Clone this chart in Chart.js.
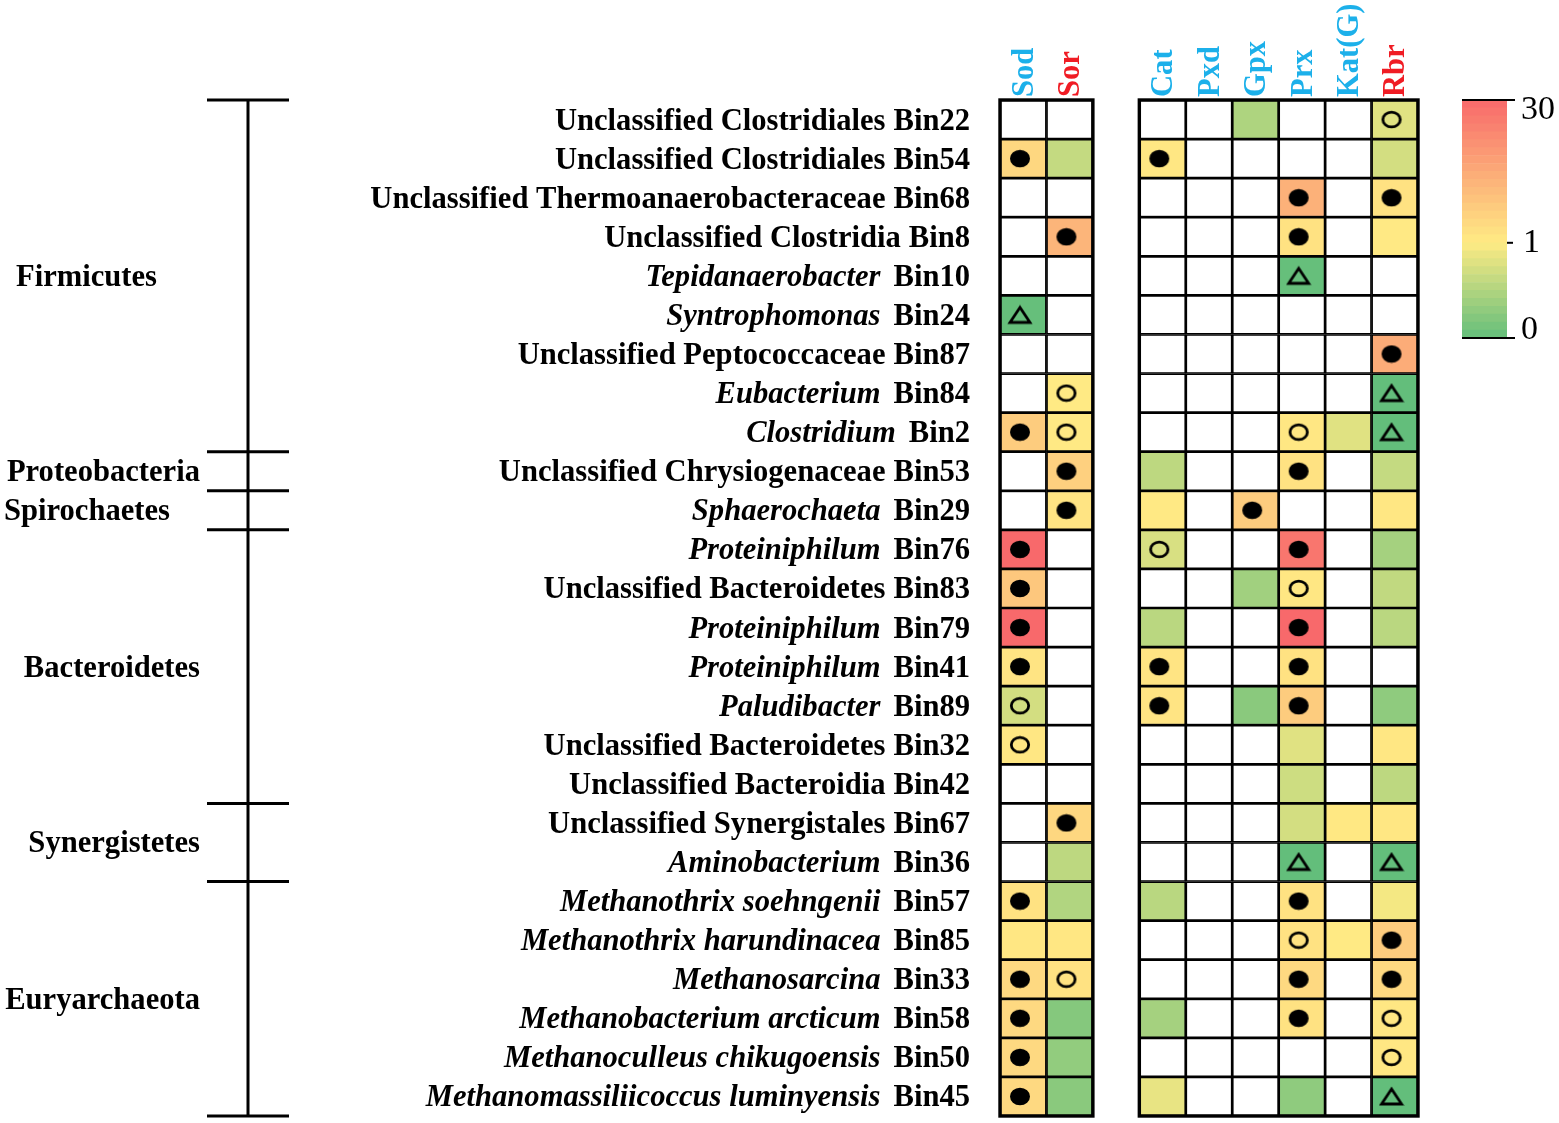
<!DOCTYPE html>
<html>
<head>
<meta charset="utf-8">
<title>Oxidative stress genes in MAGs</title>
<script src="https://cdn.jsdelivr.net/npm/chart.js@4/dist/chart.umd.min.js"></script>
<style>
  html, body { margin: 0; padding: 0; background: #fff; overflow: hidden; }
  canvas { position: absolute; display: block; }
</style>
</head>
<body>
<canvas id="heat" width="1559" height="1127" style="left:0;top:0"></canvas>
<canvas id="scale" width="119" height="280" style="left:1440px;top:80px"></canvas>
<script>
// row labels, top to bottom
const taxa = ['Unclassified Clostridiales', 'Unclassified Clostridiales', 'Unclassified Thermoanaerobacteraceae',
  'Unclassified Clostridia', 'Tepidanaerobacter', 'Syntrophomonas', 'Unclassified Peptococcaceae', 'Eubacterium',
  'Clostridium', 'Unclassified Chrysiogenaceae', 'Sphaerochaeta', 'Proteiniphilum', 'Unclassified Bacteroidetes',
  'Proteiniphilum', 'Proteiniphilum', 'Paludibacter', 'Unclassified Bacteroidetes', 'Unclassified Bacteroidia',
  'Unclassified Synergistales', 'Aminobacterium', 'Methanothrix soehngenii', 'Methanothrix harundinacea',
  'Methanosarcina', 'Methanobacterium arcticum', 'Methanoculleus chikugoensis', 'Methanomassiliicoccus luminyensis'];
const bins = ['Bin22', 'Bin54', 'Bin68', 'Bin8', 'Bin10', 'Bin24', 'Bin87', 'Bin84', 'Bin2', 'Bin53', 'Bin29', 'Bin76',
  'Bin83', 'Bin79', 'Bin41', 'Bin89', 'Bin32', 'Bin42', 'Bin67', 'Bin36', 'Bin57', 'Bin85', 'Bin33', 'Bin58', 'Bin50', 'Bin45'];

// phylum groups, number of rows in each
const phyla = ['Firmicutes', 'Proteobacteria', 'Spirochaetes', 'Bacteroidetes', 'Synergistetes', 'Euryarchaeota'];
const phylumRows = [9, 1, 1, 7, 2, 6];

// gene columns, x start of each (2 stays empty as the gap)
const genes = ['Sod', 'Sor', 'Cat', 'Pxd', 'Gpx', 'Prx', 'Kat(G)', 'Rbr'];
const geneSlots = [0, 1, 3, 4, 5, 6, 7, 8];

// values per gene, null = gene not found
const _ = null;
const sod = [_, 5.5, _, _, _, 0.02, _, _, 8, _, _, 30, 9, 30, 2.5, 0.72, 1.8, _, _, _, 3, 1.8, 5, 5, 5, 5];
const sor = [_, 0.62, _, 13, _, _, _, 1.3, 1.5, 7, 2.5, _, _, _, _, _, _, _, 5.5, 0.58, 0.5, 1.8, 3, 0.22, 0.3, 0.25];
const cat = [_, 2, _, _, _, _, _, _, _, 0.58, 1.5, 0.75, _, 0.56, 2.5, 2.5, _, _, _, _, 0.55, _, _, 0.42, _, 0.85];
const pxd = [_, _, _, _, _, _, _, _, _, _, _, _, _, _, _, _, _, _, _, _, _, _, _, _, _, _];
const gpx = [0.48, _, _, _, _, _, _, _, _, _, 8, _, 0.4, _, _, 0.25, _, _, _, _, _, _, _, _, _, _];
const prx = [_, _, 14, 3, 0.02, _, _, _, 2, 3, _, 27, 2, 30, 3, 8, 0.8, 0.68, 0.72, 0, 3, 3, 5, 3, _, 0.28];
const katG = [_, _, _, _, _, _, _, _, 0.8, _, _, _, _, _, _, _, _, _, 1.6, _, _, 1.2, _, _, _, _];
const rbr = [0.8, 0.72, 3, 1.5, _, _, 15, 0, 0, 0.62, 2, 0.42, 0.6, 0.56, _, 0.28, 2, 0.58, 1.8, 0, 0.93, 8, 5, 2, 2, 0];
const geneValues = [sod, sor, cat, pxd, gpx, prx, katG, rbr];

// markers as [row, gene]
const filledMarks = [[1, 0], [1, 2], [2, 5], [2, 7], [3, 1], [3, 5], [6, 7], [8, 0], [9, 1], [9, 5], [10, 1], [10, 4],
  [11, 0], [11, 5], [12, 0], [13, 0], [13, 5], [14, 0], [14, 2], [14, 5], [15, 2], [15, 5], [18, 1], [20, 0], [20, 5],
  [21, 7], [22, 0], [22, 5], [22, 7], [23, 0], [23, 5], [24, 0], [25, 0]];
const openMarks = [[0, 7], [7, 1], [8, 1], [8, 5], [11, 2], [12, 5], [15, 0], [16, 0], [21, 5], [22, 1], [23, 7], [24, 7]];
const triangleMarks = [[4, 5], [5, 0], [7, 7], [8, 7], [19, 5], [19, 7], [25, 7]];

// colour scale legend
const scaleLabels = ['0', '1', '30'];
const scaleStops = [0, 0.4, 1];
const scaleLabelShift = [-8, 0, 10];

const GREEN = [99, 190, 123], YELLOW = [255, 235, 132], RED = [248, 105, 107];
const SERIF = '"Liberation Serif", "Times New Roman", serif';
const LABEL_FONT = 30.6;

function mix(a, b, f) {
  return 'rgb(' + a.map((c, i) => Math.round(c + (b[i] - c) * f)).join(',') + ')';
}
function cellColor(v) {
  if (v === null) return '#ffffff';
  return v <= 1 ? mix(GREEN, YELLOW, v) : mix(YELLOW, RED, (v - 1) / 29);
}

// marker sprites, slightly wider than tall like the figure
function sprite(w, h, paint) {
  const c = document.createElement('canvas');
  c.width = w; c.height = h;
  const g = c.getContext('2d');
  g.strokeStyle = '#000'; g.fillStyle = '#000'; g.lineWidth = 2.8;
  paint(g);
  return c;
}
const dotImg = sprite(22, 19, g => { g.beginPath(); g.ellipse(11, 9.5, 10, 8.8, 0, 0, Math.PI * 2); g.fill(); });
const ringImg = sprite(22, 19, g => { g.beginPath(); g.ellipse(11, 9.5, 8.7, 7.4, 0, 0, Math.PI * 2); g.stroke(); });
const triImg = sprite(26, 21, g => {
  g.beginPath(); g.moveTo(13, 3); g.lineTo(23, 18); g.lineTo(3, 18); g.closePath();
  g.lineJoin = 'miter'; g.stroke();
});

const rowKeys = bins; // every bin is unique

const cellSets = geneValues.map((vals, i) => ({
  type: 'bar',
  order: 2,
  label: genes[i],
  data: rowKeys.map(() => [geneSlots[i], geneSlots[i] + 1]),
  backgroundColor: vals.map(cellColor),
  borderColor: '#000',
  borderWidth: 1.7,
  borderSkipped: false,
  barPercentage: 1,
  categoryPercentage: 1,
  grouped: false
}));

function markSet(marks, img) {
  return {
    type: 'scatter',
    order: 1,
    data: marks.map(m => ({ x: geneSlots[m[1]] + 0.43, y: rowKeys[m[0]] })),
    pointStyle: img,
    pointRadius: 10,
    pointHoverRadius: 10
  };
}

// row labels and the phylum bracket on the left, frames round the two blocks
const sidePlugin = {
  id: 'side',
  afterDatasetsDraw(chart) {
    const { ctx } = chart;
    const xs = chart.scales.x, ys = chart.scales.y;
    const step = ys.getPixelForValue(1) - ys.getPixelForValue(0);
    const top = ys.getPixelForValue(0) - step / 2;
    ctx.save();
    ctx.fillStyle = '#000';
    ctx.textBaseline = 'alphabetic';
    ctx.textAlign = 'left';

    taxa.forEach((name, i) => {
      const y = ys.getPixelForValue(i) + 10;
      const italic = !name.startsWith('Unclassified');
      const plain = 'bold ' + LABEL_FONT + 'px ' + SERIF;
      ctx.font = plain;
      const binW = ctx.measureText(bins[i]).width;
      const gap = italic ? 13 : 8;
      ctx.fillText(bins[i], 970 - binW, y);
      ctx.font = (italic ? 'italic ' : '') + plain;
      const nameW = ctx.measureText(name).width;
      ctx.fillText(name, 970 - binW - gap - nameW, y);
    });

    // bracket
    ctx.strokeStyle = '#000';
    ctx.lineWidth = 3;
    const bottom = top + step * taxa.length;
    ctx.beginPath(); ctx.moveTo(248, top); ctx.lineTo(248, bottom); ctx.stroke();
    const phylumRight = [157, 200, 170, 200, 200, 200];
    let row = 0;
    const tick = y => { ctx.beginPath(); ctx.moveTo(207, y); ctx.lineTo(289, y); ctx.stroke(); };
    tick(top);
    ctx.font = 'bold ' + LABEL_FONT + 'px ' + SERIF;
    ctx.textAlign = 'right';
    phyla.forEach((name, i) => {
      const y0 = top + step * row;
      row += phylumRows[i];
      const y1 = top + step * row;
      tick(y1);
      ctx.fillText(name, phylumRight[i], (y0 + y1) / 2 + 10);
    });

    // outer frames
    ctx.lineWidth = 3.4;
    [[0, 2], [3, 9]].forEach(b => {
      const l = xs.getPixelForValue(b[0]), r = xs.getPixelForValue(b[1]);
      ctx.strokeRect(l, top, r - l, bottom - top);
    });
    ctx.restore();
  }
};

new Chart(document.getElementById('heat'), {
  data: {
    labels: rowKeys,
    datasets: [...cellSets, markSet(filledMarks, dotImg), markSet(openMarks, ringImg), markSet(triangleMarks, triImg)]
  },
  options: {
    indexAxis: 'y',
    responsive: false,
    animation: false,
    events: [],
    layout: { padding: { right: 141, bottom: 7 } },
    plugins: { legend: { display: false }, tooltip: { enabled: false } },
    scales: {
      x: {
        type: 'linear',
        position: 'top',
        min: 0,
        max: 9,
        grid: { display: false },
        border: { display: false },
        afterFit(scale) {
          scale.height = 100;
          scale.paddingLeft = scale.paddingRight = scale.paddingTop = scale.paddingBottom = 0;
        },
        afterBuildTicks(scale) { scale.ticks = geneSlots.map(s => ({ value: s + 0.5 })); },
        ticks: {
          autoSkip: false,
          minRotation: 90,
          maxRotation: 90,
          padding: -5,
          labelOffset: 38.5,
          font: { family: SERIF, size: LABEL_FONT, weight: 'bold' },
          color: c => (genes[c.index] === 'Sor' || genes[c.index] === 'Rbr') ? '#f01c24' : '#1cb0ea',
          callback: (v, i) => genes[i]
        }
      },
      y: {
        type: 'category',
        labels: rowKeys,
        offset: true,
        grid: { display: false },
        border: { display: false },
        afterFit(scale) {
          scale.width = 1000;
          scale.paddingLeft = scale.paddingRight = scale.paddingTop = scale.paddingBottom = 0;
        },
        ticks: { display: false }
      }
    }
  },
  plugins: [sidePlugin]
});

// colour bar, stepped like the original
const BANDS = 30;
const bandSets = [];
for (let b = 0; b < BANDS; b++) {
  const t = (b + 0.5) / BANDS;
  const col = t <= scaleStops[1] ? mix(GREEN, YELLOW, t / scaleStops[1]) : mix(YELLOW, RED, (t - scaleStops[1]) / (1 - scaleStops[1]));
  bandSets.push({ data: [1 / BANDS], backgroundColor: col, barPercentage: 1, categoryPercentage: 1 });
}

const scalePlugin = {
  id: 'scaleMarks',
  afterDatasetsDraw(chart) {
    const { ctx, chartArea } = chart;
    const ys = chart.scales.y;
    ctx.save();
    ctx.strokeStyle = '#000';
    ctx.fillStyle = '#000';
    ctx.lineWidth = 2;
    ctx.font = '34px ' + SERIF;
    ctx.textBaseline = 'middle';
    scaleStops.forEach((s, i) => {
      const y = ys.getPixelForValue(s);
      const mid = i === 1;
      ctx.beginPath();
      ctx.moveTo(mid ? chartArea.right : chartArea.left, y);
      ctx.lineTo(chartArea.right + (mid ? 6 : 8), y);
      ctx.stroke();
      ctx.fillText(scaleLabels[i], chartArea.right + (mid ? 16 : 14), y + scaleLabelShift[i]);
    });
    ctx.restore();
  }
};

new Chart(document.getElementById('scale'), {
  type: 'bar',
  data: { labels: ['scale'], datasets: bandSets },
  options: {
    responsive: false,
    animation: false,
    events: [],
    layout: { padding: { left: 22, right: 52, top: 20, bottom: 22 } },
    plugins: { legend: { display: false }, tooltip: { enabled: false } },
    scales: {
      x: { display: false, stacked: true },
      y: { display: false, stacked: true, min: 0, max: 1 }
    }
  },
  plugins: [scalePlugin]
});
</script>
</body>
</html>
